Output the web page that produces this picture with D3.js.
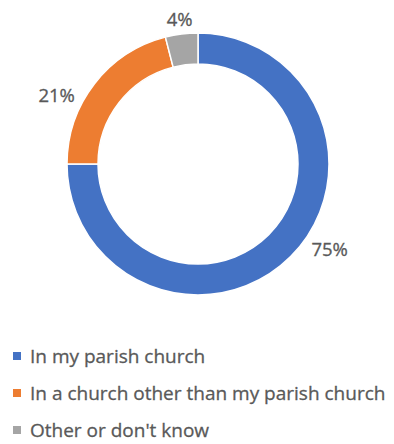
<!DOCTYPE html>
<html>
<head>
<meta charset="utf-8">
<script src="https://cdn.jsdelivr.net/npm/d3@7"></script>
<style>
  html, body { margin: 0; padding: 0; background: #fff; }
  svg { display: block; }
  text { font-family: "Open Sans", "Noto Sans", sans-serif; fill: #595959; }
</style>
</head>
<body>
<svg id="chart" width="394" height="444"></svg>
<script>
// Where respondents attend
const categories = ["In my parish church", "In a church other than my parish church", "Other or don't know"];
const values = [75, 21, 4];
const colors = ["#4472C4", "#ED7D31", "#A5A5A5"];

// Label placement around the ring: angle shift (degrees) and radius
const labelLayout = [
  { shift: -12, r: 157 },
  { shift: -12, r: 157 },
  { shift: 0, r: 146 }
];

const svg = d3.select("#chart");
const cx = 198, cy = 164;
const outerR = 131, innerR = 100;

const pie = d3.pie().sort(null).value(d => d.value);
const arcs = pie(categories.map((c, i) => ({ name: c, value: values[i], color: colors[i] })));
const arc = d3.arc().innerRadius(innerR).outerRadius(outerR);

const g = svg.append("g").attr("transform", `translate(${cx},${cy})`);

g.selectAll("path")
  .data(arcs)
  .join("path")
  .attr("d", arc)
  .attr("fill", d => d.data.color)
  .attr("stroke", "#fff")
  .attr("stroke-width", 1.5);

g.selectAll("text.lbl")
  .data(arcs)
  .join("text")
  .attr("class", "lbl")
  .attr("text-anchor", "middle")
  .attr("dy", "0.35em")
  .style("font-size", "18.5px")
  .style("stroke", "#595959")
  .style("stroke-width", 0.3)
  .attr("x", (d, i) => {
    const a = (d.startAngle + d.endAngle) / 2 + labelLayout[i].shift * Math.PI / 180;
    return Math.sin(a) * labelLayout[i].r;
  })
  .attr("y", (d, i) => {
    const a = (d.startAngle + d.endAngle) / 2 + labelLayout[i].shift * Math.PI / 180;
    return -Math.cos(a) * labelLayout[i].r;
  })
  .text(d => d.data.value + "%");

// Legend
const legendY = d3.scalePoint().domain(categories).range([356, 430]);
const legend = svg.append("g");
const rows = legend.selectAll("g")
  .data(categories)
  .join("g")
  .attr("transform", d => `translate(0,${legendY(d)})`);

rows.append("rect")
  .attr("x", 13).attr("y", -4)
  .attr("width", 8).attr("height", 8)
  .attr("fill", (d, i) => colors[i]);

rows.append("text")
  .attr("x", 30)
  .attr("dy", "0.35em")
  .style("font-size", "19px")
  .style("stroke", "#595959")
  .style("stroke-width", 0.3)
  .text(d => d);
</script>
</body>
</html>
